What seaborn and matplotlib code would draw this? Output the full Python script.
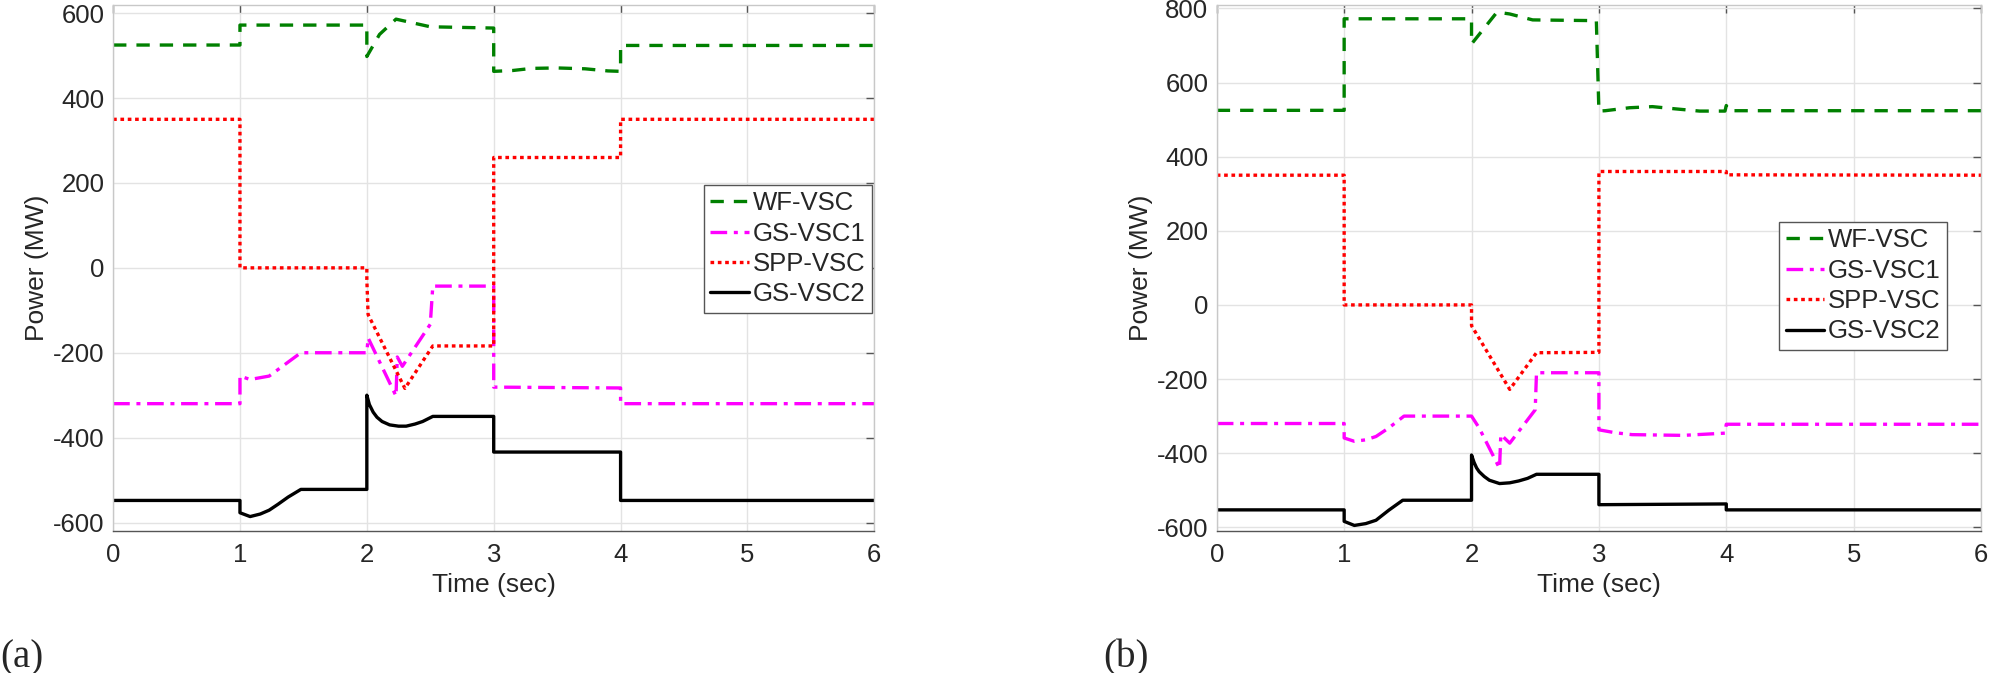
import matplotlib
matplotlib.use('Agg')
import matplotlib.pyplot as plt
import seaborn as sns

# DATA (time in sec, power in MW)
names = ['WF-VSC', 'GS-VSC1', 'SPP-VSC', 'GS-VSC2']
colors = ['#008000', '#FF00FF', '#FF0000', '#000000']
dashes = [(4, 3), (5, 2, 1.2, 2), (1.1, 1.1), ()]

# panel (a)
a_wf_t = [0, 1.0, 1.0, 2.0, 2.0, 2.1, 2.23, 2.5, 3.0, 3.0, 3.15, 3.3, 3.5, 3.72, 3.9, 4.0, 4.0, 6]
a_wf_p = [525, 525, 572, 572, 498, 550, 586, 568, 565, 463, 465, 470, 471, 469, 464, 463, 524, 524]

a_gs1_t = [0, 1.0, 1.0, 1.08, 1.23, 1.48, 2.0, 2.01, 2.23, 2.24, 2.28, 2.5, 2.52, 3.0, 3.0, 4.0, 4.0, 6]
a_gs1_p = [-320, -320, -255, -263, -255, -200, -200, -165, -302, -210, -232, -133, -43, -43, -281, -283, -320, -320]

a_spp_t = [0, 1.0, 1.0, 2.0, 2.0, 2.01, 2.3, 2.52, 3.0, 3.0, 4.0, 4.0, 6]
a_spp_p = [350, 350, 0, 0, -28, -110, -284, -184, -184, 260, 260, 350, 350]

a_gs2_t = [0, 1.0, 1.0, 1.08, 1.16, 1.23, 1.3, 1.38, 1.48, 2.0, 2.0, 2.02, 2.05, 2.08, 2.12, 2.18, 2.25,
           2.31, 2.38, 2.44, 2.52, 3.0, 3.0, 4.0, 4.0, 6]
a_gs2_p = [-548, -548, -577, -586, -580, -571, -557, -540, -522, -522, -300, -322, -340, -352, -362, -370, -373,
           -373, -368, -362, -350, -350, -434, -434, -548, -548]

# panel (b)
b_wf_t = [0, 1.0, 1.0, 2.0, 2.0, 2.2, 2.3, 2.48, 2.98, 3.0, 3.05, 3.24, 3.42, 3.6, 3.79, 3.99, 4.0, 4.02, 6]
b_wf_p = [525, 525, 772, 772, 704, 790, 785, 769, 767, 523, 524, 532, 535, 529, 523, 523, 538, 524, 524]

b_gs1_t = [0, 1.0, 1.0, 1.08, 1.17, 1.25, 1.35, 1.47, 2.0, 2.06, 2.22, 2.23, 2.3, 2.5, 2.51, 3.0, 3.0,
           3.13, 3.26, 3.66, 3.99, 4.0, 6]
b_gs1_p = [-320, -320, -359, -368, -364, -355, -332, -300, -300, -332, -441, -350, -373, -283, -183, -183, -337,
           -345, -350, -352, -346, -322, -322]

b_spp_t = [0, 1.0, 1.0, 2.0, 2.0, 2.3, 2.51, 3.0, 3.0, 4.0, 4.0, 6]
b_spp_p = [350, 350, 0, 0, -56, -228, -129, -128, 360, 360, 351, 350]

b_gs2_t = [0, 1.0, 1.0, 1.08, 1.17, 1.25, 1.35, 1.46, 2.0, 2.0, 2.02, 2.04, 2.06, 2.1, 2.14, 2.22, 2.3,
           2.37, 2.44, 2.51, 3.0, 3.0, 4.0, 4.0, 6]
b_gs2_p = [-553, -553, -584, -595, -590, -581, -554, -527, -527, -405, -425, -440, -450, -463, -473, -482, -480,
           -475, -468, -457, -457, -539, -537, -553, -553]

panels = [
    ([(a_wf_t, a_wf_p), (a_gs1_t, a_gs1_p), (a_spp_t, a_spp_p), (a_gs2_t, a_gs2_p)],
     (-620, 620), [-600, -400, -200, 0, 200, 400, 600], (0.776, 0.658), '(a)', 0.0),
    ([(b_wf_t, b_wf_p), (b_gs1_t, b_gs1_p), (b_spp_t, b_spp_p), (b_gs2_t, b_gs2_p)],
     (-610, 810), [-600, -400, -200, 0, 200, 400, 600, 800], (0.736, 0.5875), '(b)', 0.552),
]

# BUILD GRAPH
sns.set_style('white')
plt.rcParams['font.family'] = ['Liberation Sans', 'DejaVu Sans']
plt.rcParams['axes.unicode_minus'] = False

fig = plt.figure(figsize=(19.98, 6.73), dpi=100)
axes_pos = [[0.0566, 0.211, 0.381, 0.782], [0.609, 0.211, 0.3825, 0.782]]

for pos, (series, ylim, yticks, leg_xy, tag, tag_x) in zip(axes_pos, panels):
    ax = fig.add_axes(pos)
    for (t, p), name, c, d in zip(series, names, colors, dashes):
        sns.lineplot(x=t, y=p, ax=ax, estimator=None, sort=False,
                     color=c, linewidth=2.4, label=name,
                     linestyle='-' if not d else (0, d))

    ax.set_xlim(0, 6)
    ax.set_ylim(*ylim)
    ax.set_xticks(range(7))
    ax.set_yticks(yticks)
    ax.grid(True, color='#E3E3E3', linewidth=1.0)
    ax.set_axisbelow(True)
    for side in ['top', 'right', 'left']:
        ax.spines[side].set_color('#C8C8C8')
    ax.spines['bottom'].set_color('#555555')
    for s in ax.spines.values():
        s.set_linewidth(1.0)
    ax.tick_params(axis='both', direction='in', length=6, width=1.0,
                   colors='#555555', labelcolor='#262626', labelsize=18.5,
                   top=True, right=True)
    ax.tick_params(axis='x', pad=9)
    ax.tick_params(axis='y', pad=6)

    ax.set_xlabel('Time (sec)', fontsize=19, color='#262626', labelpad=4)
    ax.set_ylabel('Power (MW)', fontsize=19, color='#262626', labelpad=3)

    leg = ax.legend(loc='upper left', bbox_to_anchor=leg_xy, borderaxespad=0,
                    fontsize=18.5, frameon=True, fancybox=False, framealpha=1,
                    edgecolor='#555555', handlelength=1.5, handletextpad=0.15,
                    labelspacing=0.25, borderpad=0.25)
    leg.get_frame().set_linewidth(1.0)

    fig.text(tag_x, 0.022, tag, fontsize=28, family='Liberation Serif',
             ha='left', va='center')

plt.savefig('out.png', dpi=100)
